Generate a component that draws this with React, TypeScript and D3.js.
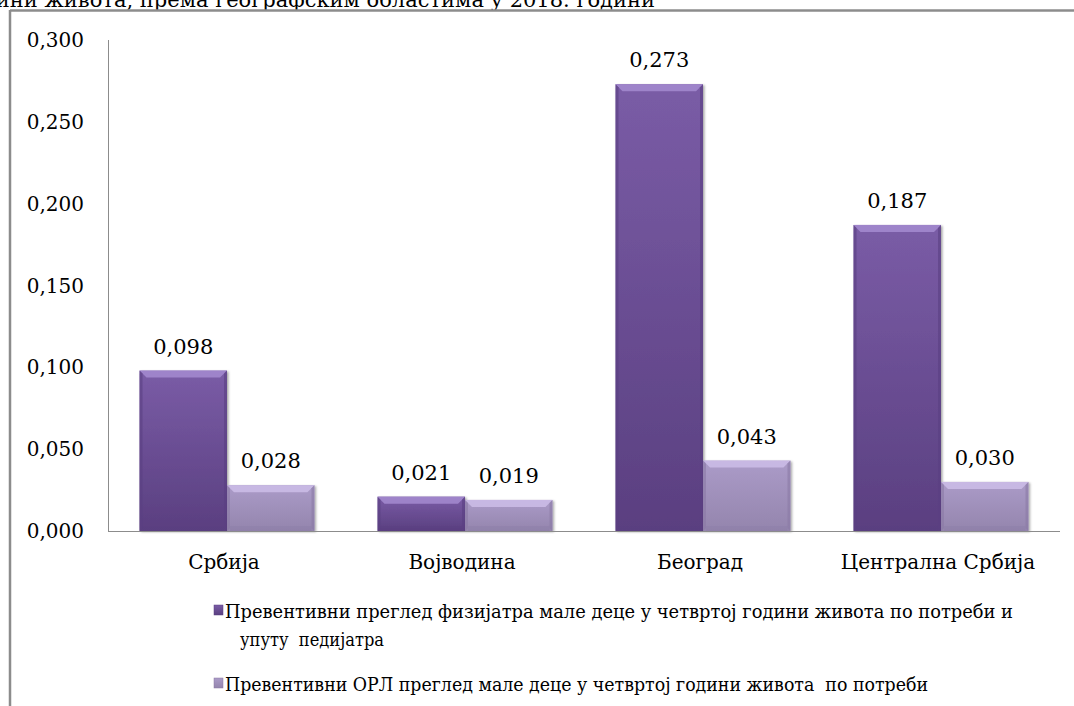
import React from "react";
import * as d3 from "d3";

const categories = ["Србија", "Војводина", "Београд", "Централна Србија"];
const seriesNames = [
  "Превентивни преглед физијатра мале деце у четвртој години живота по потреби и",
  "Превентивни ОРЛ преглед мале деце у четвртој години живота  по потреби",
];
const legendLine2 = "упуту  педијатра";
const seriesA = [0.098, 0.021, 0.273, 0.187];
const seriesB = [0.028, 0.019, 0.043, 0.03];
const yTicks = [0, 0.05, 0.1, 0.15, 0.2, 0.25, 0.3];
const titleText = "ини живота, према географским областима у 2018. години";

const W = 1074;
const H = 706;
const FONT = "'DejaVu Serif', serif";

const fmt = (v: number) => v.toFixed(3).replace(".", ",");

export default function App() {
  const x0 = d3.scaleBand<string>().domain(categories).range([108, 1060]).paddingInner(0.265).paddingOuter(0.1325);
  const x1 = d3.scaleBand<string>().domain(["a", "b"]).range([0, x0.bandwidth()]);
  const y = d3.scaleLinear().domain([0, 0.3]).range([531, 40]);
  const series = [
    { key: "a", values: seriesA, grad: "gA", top: "#a48bd0", side: "#5a3f82" },
    { key: "b", values: seriesB, grad: "gB", top: "#cdbde8", side: "#8a7aa5" },
  ];

  return (
    <svg width={W} height={H} style={{ position: "absolute", left: 0, top: 0, fontFamily: FONT }}>
      <defs>
        <linearGradient id="gA" x1="0" y1="0" x2="0" y2="1">
          <stop offset="0" stopColor="#7a5ca6" />
          <stop offset="1" stopColor="#5a3f80" />
        </linearGradient>
        <linearGradient id="gB" x1="0" y1="0" x2="0" y2="1">
          <stop offset="0" stopColor="#ab9bc8" />
          <stop offset="1" stopColor="#9485ad" />
        </linearGradient>
        <filter id="sh" x="-10%" y="-10%" width="130%" height="120%">
          <feDropShadow dx="1.5" dy="1" stdDeviation="1.2" floodColor="#000" floodOpacity="0.35" />
        </filter>
      </defs>
      <rect x={0} y={0} width={W} height={H} fill="#fff" />
      <text x={655} y={7} fontFamily={FONT} fontSize={21} fill="#000" textAnchor="end">
        {titleText}
      </text>
      {/* frame */}
      <line x1={10} y1={10.5} x2={W} y2={10.5} stroke="#8c8c8c" strokeWidth={2.5} />
      <line x1={10} y1={10} x2={10} y2={H} stroke="#8c8c8c" strokeWidth={2.5} />

      {/* y axis */}
      <line x1={108.5} y1={y(0.3)} x2={108.5} y2={y(0)} stroke="#8c8c8c" strokeWidth={1} />
      {yTicks.map((t) => (
        <text key={t} x={84} y={y(t) + 7} fontFamily={FONT} fontSize={20} textAnchor="end" fill="#000">
          {fmt(t)}
        </text>
      ))}

      {/* bars */}
      {series.map((s) =>
        categories.map((c, i) => {
          const bx = (x0(c) as number) + (x1(s.key) as number);
          const bw = x1.bandwidth();
          const by = y(s.values[i]);
          const bh = y(0) - by;
          const bev = Math.min(7, bh / 2);
          return (
            <g key={s.key + c}>
              <rect x={bx} y={by} width={bw} height={bh} fill={`url(#${s.grad})`} filter="url(#sh)" />
              <polygon
                points={`${bx},${by} ${bx + bw},${by} ${bx + bw - bev},${by + bev} ${bx + bev},${by + bev}`}
                fill={s.top}
                opacity={0.85}
              />
              <polygon
                points={`${bx},${by} ${bx + 3},${by + 3} ${bx + 3},${by + bh - 3} ${bx},${by + bh}`}
                fill={s.side}
                opacity={0.6}
              />
              <polygon
                points={`${bx + bw},${by} ${bx + bw - 3},${by + 3} ${bx + bw - 3},${by + bh - 3} ${bx + bw},${by + bh}`}
                fill={s.side}
                opacity={0.6}
              />
              <rect x={bx + 3} y={by + bh - 5} width={bw - 6} height={5} fill={s.side} opacity={0.35} />
              <text
                x={bx + bw / 2}
                y={by - 17}
                fontFamily={FONT}
                fontSize={21}
                textAnchor="middle"
                fill="#000"
              >
                {fmt(s.values[i])}
              </text>
            </g>
          );
        })
      )}

      {/* x axis */}
      <line x1={108} y1={y(0) + 0.5} x2={1060} y2={y(0) + 0.5} stroke="#8c8c8c" strokeWidth={1} />
      {categories.map((c) => (
        <text
          key={c}
          x={(x0(c) as number) + x0.bandwidth() / 2 - 3}
          y={569}
          fontFamily={FONT}
          fontSize={20}
          textAnchor="middle"
          fill="#000"
        >
          {c}
        </text>
      ))}

      {/* legend */}
      <rect x={214} y={605} width={9} height={10} fill="url(#gA)" stroke="#5a3f80" strokeWidth={0.5} />
      <text x={225} y={618} fontFamily={FONT} fontSize={18.5} fill="#000" textLength={788} lengthAdjust="spacingAndGlyphs">
        {seriesNames[0]}
      </text>
      <text x={240} y={646} fontFamily={FONT} fontSize={18.5} fill="#000" style={{ whiteSpace: "pre" }} textLength={144} lengthAdjust="spacingAndGlyphs">
        {legendLine2}
      </text>
      <rect x={214} y={678} width={9} height={10} fill="url(#gB)" stroke="#8a7aa5" strokeWidth={0.5} />
      <text x={225} y={691} fontFamily={FONT} fontSize={18.5} fill="#000" style={{ whiteSpace: "pre" }} textLength={703} lengthAdjust="spacingAndGlyphs">
        {seriesNames[1]}
      </text>
    </svg>
  );
}
